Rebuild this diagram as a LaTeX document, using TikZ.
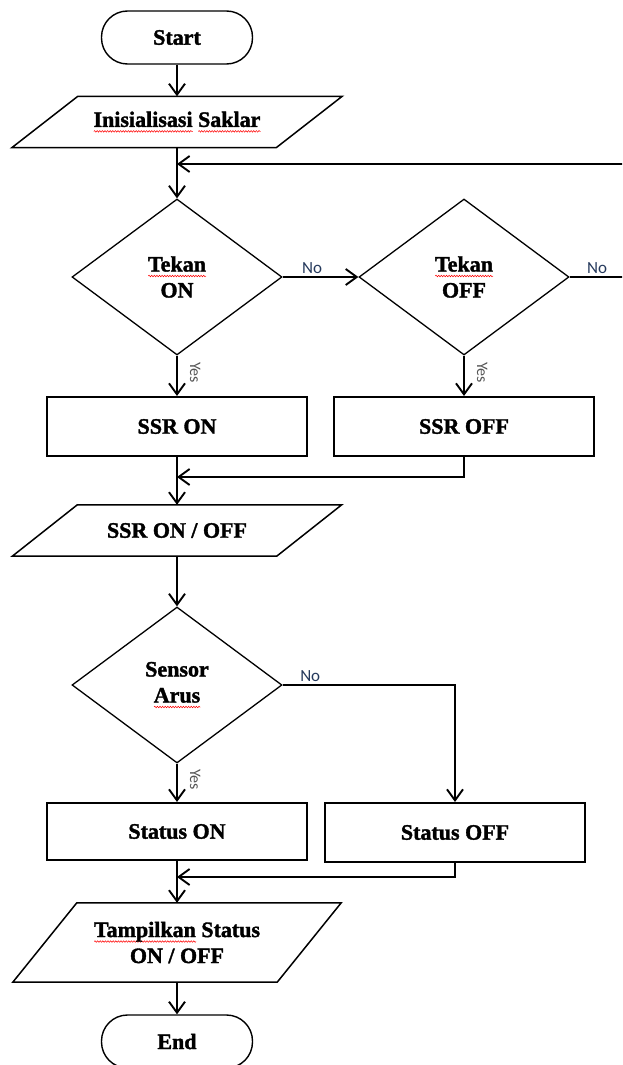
\documentclass[tikz,border=0pt]{standalone}
\usepackage{fontspec}
\setmainfont[FakeBold=1.6]{Liberation Serif}
\newfontfamily\labelfont{Carlito}
\usetikzlibrary{shapes.geometric,arrows.meta,decorations.pathmorphing}
\definecolor{nocol}{HTML}{25395C}
\definecolor{yescol}{HTML}{555555}
% red spell-check wave under a word
\newsavebox{\salahbox}
\newlength{\salahlen}
\newcommand{\salah}[1]{\sbox{\salahbox}{#1}\setlength{\salahlen}{\wd\salahbox}%
  \rlap{\tikz[baseline=0pt]\draw[red, line width=.5pt, decorate,
    decoration={snake, amplitude=.8pt, segment length=2.6pt}] (0pt,-4.5pt) -- (\salahlen,-4.5pt);}%
  \usebox{\salahbox}}
\tikzset{
  base/.style={font=\fontsize{22}{26}\bfseries, align=center},
  term/.style={base, draw, line width=1.4pt, rounded corners=26pt, minimum width=151pt, minimum height=53pt},
  proc/.style={base, draw, line width=2.1pt, minimum width=260pt, minimum height=59pt},
  keputusan/.style={base, draw, diamond, line width=1.3pt, minimum width=210pt, minimum height=156pt},
  io/.style={base, minimum width=264pt, minimum height=51pt},
  sisi/.style={line width=1.5pt},
  panah/.style={->, line width=1.9pt},
  nolbl/.style={font=\labelfont\fontsize{17}{17}\selectfont, text=nocol, inner sep=2pt},
  yeslbl/.style={font=\labelfont\fontsize{16}{16}\selectfont, text=yescol, xshift=10pt, rotate=-90, anchor=south, inner sep=2pt}
}
\begin{document}
\begin{tikzpicture}[x=1pt, y=-1pt, >={Straight Barb[length=11pt, width=16pt]}]
\useasboundingbox (0,0) rectangle (622,1065);
\clip (0,0) rectangle (622,1065);

\node[term] (start) at (177,37.5) {Start};
\node[io] (init) at (177,122) {\salah{Inisialisasi} \salah{Saklar}};
\draw[sisi] ([xshift=33pt]init.north west) -- ([xshift=33pt]init.north east)
    -- ([xshift=-33pt]init.south east) -- ([xshift=-33pt]init.south west) -- cycle;

\node[keputusan] (tekanon) at (177,277) {\salah{Tekan}\\ON};
\node[keputusan] (tekanoff) at (464,277) {\salah{Tekan}\\OFF};
\node[proc] (ssron) at (177,426.5) {SSR ON};
\node[proc] (ssroff) at (464,426.5) {SSR OFF};

\node[io] (ssrio) at (177,530.5) {SSR ON / OFF};
\draw[sisi] ([xshift=32.5pt]ssrio.north west) -- ([xshift=32.5pt]ssrio.north east)
    -- ([xshift=-32.5pt]ssrio.south east) -- ([xshift=-32.5pt]ssrio.south west) -- cycle;

\node[keputusan] (sensor) at (177,685) {Sensor\\\salah{Arus}};
\node[proc, minimum height=57pt] (staton) at (177,831.5) {Status ON};
\node[proc] (statoff) at (455,832.5) {Status OFF};

\node[io, minimum height=79pt] (tampil) at (177,942.5) {\salah{Tampilkan} Status\\ON / OFF};
\draw[sisi] ([xshift=32pt]tampil.north west) -- ([xshift=32pt]tampil.north east)
    -- ([xshift=-32pt]tampil.south east) -- ([xshift=-32pt]tampil.south west) -- cycle;

\node[term] (end) at (177,1041.5) {End};

\coordinate (balik) at (640,164);
\coordinate (gabung1) at (177,477);
\coordinate (gabung2) at (177,877);

\draw[panah] (start.south) -- (init.north);
\draw[panah] (init.south) -- (tekanon.north);
\draw[panah] (tekanoff.east) -- node[nolbl, pos=.39, above]{No} (balik |- tekanoff.east)
    -- (balik) -- (init.south |- balik);
\draw[panah] (tekanon.east) -- node[nolbl, pos=.39, above]{No} (tekanoff.west);
\draw[panah] (tekanon.south) -- node[yeslbl, pos=.42]{Yes} (ssron.north);
\draw[panah] (tekanoff.south) -- node[yeslbl, pos=.42]{Yes} (ssroff.north);
\draw[panah] (ssron.south) -- (ssrio.north);
\draw[panah] (ssroff.south) |- (gabung1);
\draw[panah] (ssrio.south) -- (sensor.north);
\draw[panah] (sensor.south) -- node[yeslbl, pos=.42]{Yes} (staton.north);
\draw[panah] (sensor.east) -| node[nolbl, pos=.08, above]{No} (statoff.north);
\draw[panah] (staton.south) -- (tampil.north);
\draw[panah] (statoff.south) |- (gabung2);
\draw[panah] (tampil.south) -- (end.north);
\end{tikzpicture}
\end{document}
